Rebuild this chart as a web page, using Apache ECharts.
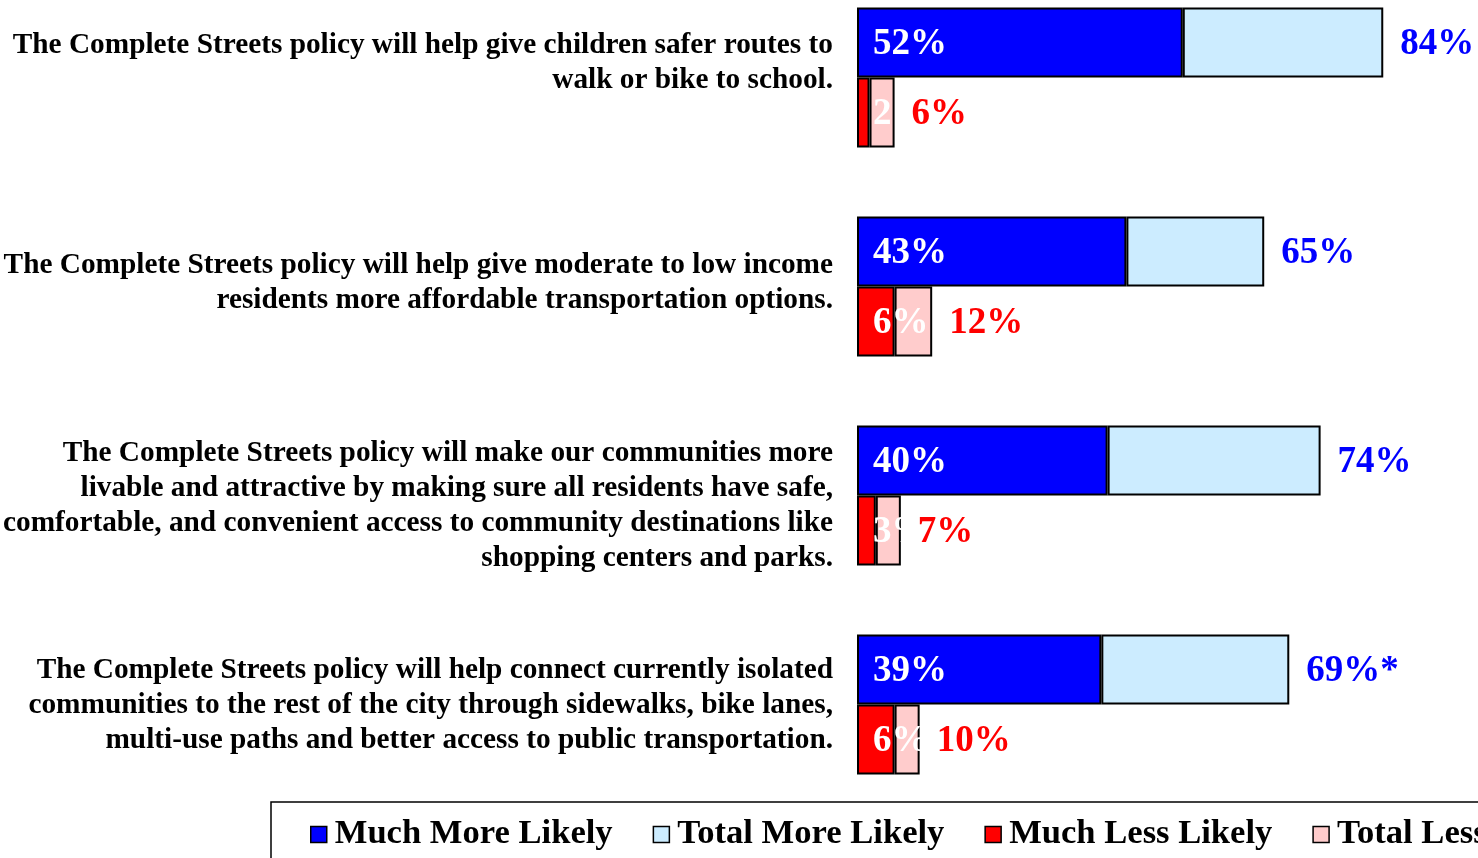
<!DOCTYPE html>
<html>
<head>
<meta charset="utf-8">
<script src="https://cdn.jsdelivr.net/npm/echarts@6/dist/echarts.min.js"></script>
<style>
  html, body { margin: 0; padding: 0; background: #fff; }
  #chart { width: 1478px; height: 858px; }
</style>
</head>
<body>
<div id="chart"></div>
<script>
// Survey statements (one per row group)
const categories = [
  'The Complete Streets policy will help give children safer routes to\nwalk or bike to school.',
  'The Complete Streets policy will help give moderate to low income\nresidents more affordable transportation options.',
  'The Complete Streets policy will make our communities more\nlivable and attractive by making sure all residents have safe,\ncomfortable, and convenient access to community destinations like\nshopping centers and parks.',
  'The Complete Streets policy will help connect currently isolated\ncommunities to the rest of the city through sidewalks, bike lanes,\nmulti-use paths and better access to public transportation.'
];

// Percentages
const muchMore  = [52, 43, 40, 39];
const totalMore = [84, 65, 74, 69];
const muchLess  = [2, 6, 3, 6];
const totalLess = [6, 12, 7, 10];
const totalMoreNotes = ['', '', '', '*'];

const seriesNames = ['Much More Likely', 'Total More Likely', 'Much Less Likely', 'Total Less Likely'];

// Vertical nudge (px) of each wrapped statement relative to its row centre
const labelShift = [-15, -4, 10, 1];

const FONT = '"Liberation Serif", "Times New Roman", serif';

const chart = echarts.init(document.getElementById('chart'), null, { renderer: 'canvas' });

const moreRemainder = totalMore.map((t, i) => t - muchMore[i]);
const lessRemainder = totalLess.map((t, i) => t - muchLess[i]);
const zeros = totalMore.map(() => 0);

// An invisible spacer line before/after the statement moves the block by half its height
const spacerRich = {};
labelShift.forEach((s, i) => {
  spacerRich['sp' + i] = { fontSize: 1, lineHeight: Math.max(1, Math.abs(s) * 2) };
});
const statementLabel = (value, index) => {
  const s = labelShift[index];
  if (!s) return value;
  return s < 0 ? value + '\n{sp' + index + '| }' : '{sp' + index + '| }\n' + value;
};

const border = { borderColor: '#000', borderWidth: 2 };

const insideLabel = {
  show: true,
  position: 'insideLeft',
  distance: 16,
  offset: [0, 2],
  color: '#fff',
  fontFamily: FONT,
  fontWeight: 'bold',
  fontSize: 37,
  formatter: p => p.value + '%'
};

const bar = (extra) => Object.assign({ type: 'bar', barWidth: 70, barGap: '0%' }, extra);

chart.setOption({
  animation: false,
  backgroundColor: '#fff',
  grid: { left: 857, width: 626.5, top: -27, height: 836, outerBoundsMode: 'none' },
  xAxis: {
    type: 'value', min: 0, max: 100,
    show: false
  },
  yAxis: {
    type: 'category',
    inverse: true,
    data: categories,
    axisLine: { show: false },
    axisTick: { show: false },
    splitLine: { show: false },
    axisLabel: {
      margin: 24,
      align: 'right',
      verticalAlign: 'middle',
      color: '#000',
      fontFamily: FONT,
      fontWeight: 'bold',
      fontSize: 29.3,
      lineHeight: 35,
      formatter: statementLabel,
      rich: spacerRich
    }
  },
  legend: {
    data: seriesNames,
    left: 271,
    top: 802,
    width: 1500,
    orient: 'horizontal',
    padding: [15, 20, 20, 39],
    itemGap: 40,
    itemWidth: 16,
    itemHeight: 16,
    icon: 'rect',
    borderColor: '#000',
    borderWidth: 1.5,
    backgroundColor: '#fff',
    itemStyle: { borderColor: '#000', borderWidth: 1.5 },
    textStyle: {
      color: '#000',
      fontFamily: FONT,
      fontWeight: 'bold',
      fontSize: 34.6,
      padding: [0, 0, 0, 3]
    }
  },
  series: [
    // "More likely" row: dark segment, then the rest of the total
    bar({
      name: seriesNames[0], stack: 'more', data: muchMore,
      itemStyle: Object.assign({ color: '#0000FF' }, border),
      label: insideLabel, z: 3
    }),
    bar({
      name: seriesNames[1], stack: 'more', data: moreRemainder,
      itemStyle: Object.assign({ color: '#CCECFF' }, border)
    }),
    // zero-length end cap that carries the total label
    bar({
      name: 'totalMoreLabel', stack: 'more', data: zeros, z: 4,
      itemStyle: { color: 'transparent', borderWidth: 0 },
      label: {
        show: true, position: 'right', distance: 17, offset: [0, 2],
        color: '#0000FF', fontFamily: FONT, fontWeight: 'bold', fontSize: 37,
        formatter: p => totalMore[p.dataIndex] + '%' + totalMoreNotes[p.dataIndex]
      },
      emphasis: { disabled: true }
    }),
    // "Less likely" row
    bar({
      name: seriesNames[2], stack: 'less', data: muchLess,
      itemStyle: Object.assign({ color: '#FF0000' }, border),
      label: insideLabel, z: 3
    }),
    bar({
      name: seriesNames[3], stack: 'less', data: lessRemainder,
      itemStyle: Object.assign({ color: '#FFCCCC' }, border)
    }),
    bar({
      name: 'totalLessLabel', stack: 'less', data: zeros, z: 4,
      itemStyle: { color: 'transparent', borderWidth: 0 },
      label: {
        show: true, position: 'right', distance: 17, offset: [0, 2],
        color: '#FF0000', fontFamily: FONT, fontWeight: 'bold', fontSize: 37,
        formatter: p => totalLess[p.dataIndex] + '%'
      },
      emphasis: { disabled: true }
    })
  ]
});
</script>
</body>
</html>
